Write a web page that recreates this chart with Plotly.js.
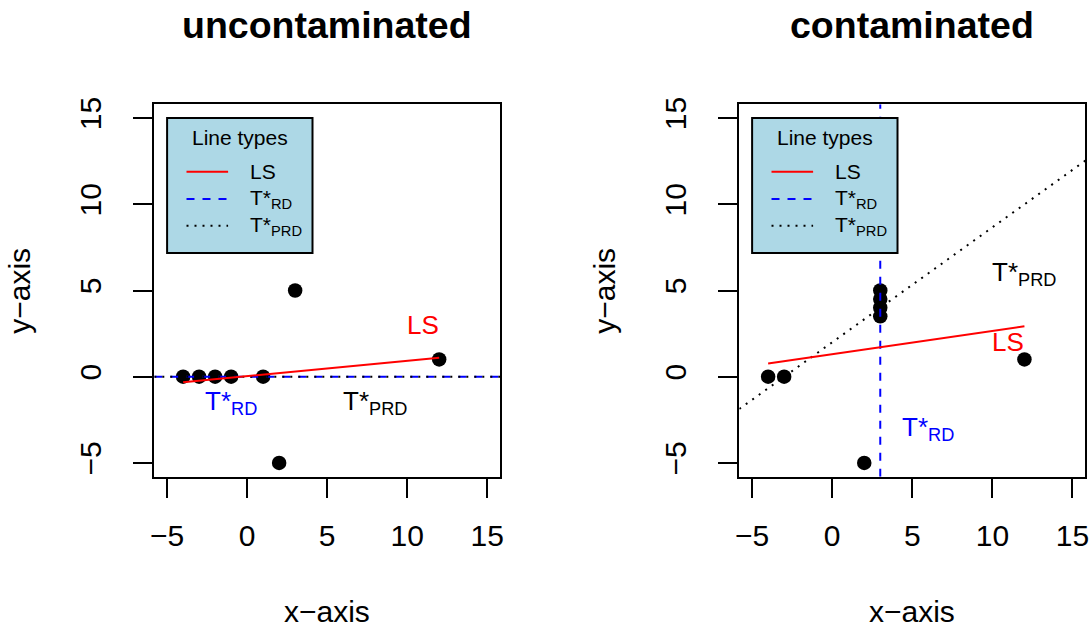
<!DOCTYPE html>
<html>
<head>
<meta charset="utf-8">
<script src="https://cdn.plot.ly/plotly-3.0.1.min.js"></script>
<style>html,body{margin:0;padding:0;background:#fff;}#chart{width:1091px;height:627px;}</style>
</head>
<body>
<div id="chart"></div>
<script>
// ---------- data ----------
const panelTitles = ["uncontaminated", "contaminated"];
const xAxisLabel = "x\u2212axis";
const yAxisLabel = "y\u2212axis";
const tickVals = [-5, 0, 5, 10, 15];
const tickText = ["\u22125", "0", "5", "10", "15"];
const axisRange = [-5.8, 15.8];

// uncontaminated sample
const leftX = [-4, -3, -2, -1, 1, 3, 2, 12];
const leftY = [0, 0, 0, 0, 0, 5, -5, 1];
// contaminated sample
const rightX = [-4, -3, 3, 3, 3, 3, 2, 12];
const rightY = [0, 0, 5, 4.5, 4, 3.5, -5, 1];

// fitted lines
const lsLeftX = [-4, 12];
const lsLeftY = [-0.32, 1.10];
const rdLeftX = [-5.8, 15.8];
const rdLeftY = [0, 0];
const prdLeftX = [-5.8, 15.8];
const prdLeftY = [0, 0];

const lsRightX = [-4, 12];
const lsRightY = [0.76, 2.92];
const rdRightX = [3, 3];
const rdRightY = [-5.8, 15.8];
const prdRightX = [-5.8, 15.8];
const prdRightY = [-1.87, 12.53];

// in-plot labels
const labelText = ["LS", "T*<sub>RD</sub>", "T*<sub>PRD</sub>"];
const labelLeftX = [11, -1, 8];
const labelLeftY = [3, -1.5, -1.5];
const labelRightX = [11, 6, 12];
const labelRightY = [2, -3, 6];

const legendTitle = "Line types";
const legendLabels = ["LS", "T*<sub>RD</sub>", "T*<sub>PRD</sub>"];
const legendAnchor = [-5, 15];

// ---------- styles ----------
const FONT = "Liberation Sans, Arial, Helvetica, sans-serif";
const colLS = "#FF0000", colRD = "#0000FF", colPRD = "#000000";
const labelColors = [colLS, colRD, colPRD];
const dashRD = "8px,8px", dashPRD = "2px,6px";

function pointsTrace(x, y, xa, ya) {
  return {x: x, y: y, xaxis: xa, yaxis: ya, type: "scatter", mode: "markers",
    marker: {color: "#000", size: 14.5, line: {width: 0}}, showlegend: false, hoverinfo: "skip"};
}
function lineTrace(x, y, xa, ya, color, dash) {
  return {x: x, y: y, xaxis: xa, yaxis: ya, type: "scatter", mode: "lines",
    line: {color: color, width: 2, dash: dash}, showlegend: false, hoverinfo: "skip", cliponaxis: true};
}

const data = [
  pointsTrace(leftX, leftY, "x", "y"),
  lineTrace(rdLeftX, rdLeftY, "x", "y", colRD, dashRD),
  lineTrace(prdLeftX, prdLeftY, "x", "y", colPRD, dashPRD),
  lineTrace(lsLeftX, lsLeftY, "x", "y", colLS, "solid"),
  pointsTrace(rightX, rightY, "x2", "y2"),
  lineTrace(rdRightX, rdRightY, "x2", "y2", colRD, dashRD),
  lineTrace(prdRightX, prdRightY, "x2", "y2", colPRD, dashPRD),
  lineTrace(lsRightX, lsRightY, "x2", "y2", colLS, "solid")
];

const W = 1091, H = 627;
const plotTop = 104.3, plotBottom = 476.7;
const leftDom = [154.3, 500], rightDom = [739.3, 1085.3];

function xAxis(dom, anchor) {
  return {domain: [dom[0] / W, dom[1] / W], anchor: anchor, range: axisRange, autorange: false,
    tickmode: "array", tickvals: tickVals, ticktext: tickText, ticks: "outside", ticklen: 19, tickwidth: 2,
    tickcolor: "#000", showline: true, linecolor: "#000", linewidth: 2, mirror: true,
    showgrid: false, zeroline: false, tickfont: {family: FONT, size: 30, color: "#000"},
    ticklabelstandoff: 12, fixedrange: true};
}
function yAxis(anchor) {
  return {domain: [1 - plotBottom / H, 1 - plotTop / H], anchor: anchor, range: axisRange, autorange: false,
    tickmode: "array", tickvals: tickVals, ticktext: tickText, ticks: "outside", ticklen: 19, tickwidth: 2,
    tickcolor: "#000", showline: true, linecolor: "#000", linewidth: 2, mirror: true,
    showgrid: false, zeroline: false, tickangle: -90, tickfont: {family: FONT, size: 30, color: "#000"},
    ticklabelstandoff: 20, fixedrange: true};
}

const annotations = [];
const shapes = [];

[leftDom, rightDom].forEach(function (dom, i) {
  const cx = (dom[0] + dom[1]) / 2 / W;
  annotations.push({xref: "paper", yref: "paper", x: cx, y: 1 - 25 / H, xanchor: "center", yanchor: "middle",
    text: "<b>" + panelTitles[i] + "</b>", showarrow: false, font: {family: FONT, size: 37.5, color: "#000"}});
  annotations.push({xref: "paper", yref: "paper", x: cx, y: 1 - 611.3 / H, xanchor: "center", yanchor: "middle",
    text: xAxisLabel, showarrow: false, font: {family: FONT, size: 30, color: "#000"}});
  annotations.push({xref: "paper", yref: "paper", x: (dom[0] - 135) / W, y: 1 - 290.5 / H, xanchor: "center", yanchor: "middle",
    text: yAxisLabel, textangle: -90, showarrow: false, font: {family: FONT, size: 30, color: "#000"}});
});

// in-plot labels
[[labelLeftX, labelLeftY, "x", "y"], [labelRightX, labelRightY, "x2", "y2"]].forEach(function (s) {
  for (let k = 0; k < labelText.length; k++) {
    annotations.push({xref: s[2], yref: s[3], x: s[0][k], y: s[1][k], xanchor: "center", yanchor: "middle",
      text: labelText[k], showarrow: false, font: {family: FONT, size: 26, color: labelColors[k]}});
  }
});

// legends (box, samples, text) anchored at data point (-5, 15)
const legendRows = [
  {color: colLS, dash: "solid", dy: 53.7},
  {color: colRD, dash: dashRD, dy: 81},
  {color: colPRD, dash: dashPRD, dy: 107.7}
];
[["x", "y"], ["x2", "y2"]].forEach(function (ax) {
  shapes.push({type: "rect", xref: ax[0], yref: ax[1], xsizemode: "pixel", ysizemode: "pixel",
    xanchor: legendAnchor[0], yanchor: legendAnchor[1], x0: 0, x1: 145.4, y0: -135, y1: 0,
    fillcolor: "#ADD8E6", line: {color: "#000", width: 2}, layer: "above"});
  annotations.push({xref: ax[0], yref: ax[1], x: legendAnchor[0], y: legendAnchor[1], xanchor: "center", yanchor: "middle",
    xshift: 72.7, yshift: -19.5, text: legendTitle, showarrow: false, font: {family: FONT, size: 21, color: "#000"}});
  legendRows.forEach(function (r, k) {
    shapes.push({type: "line", xref: ax[0], yref: ax[1], xsizemode: "pixel", ysizemode: "pixel",
      xanchor: legendAnchor[0], yanchor: legendAnchor[1], x0: 19.4, x1: 61, y0: -r.dy, y1: -r.dy,
      line: {color: r.color, width: 2, dash: r.dash}, layer: "above"});
    annotations.push({xref: ax[0], yref: ax[1], x: legendAnchor[0], y: legendAnchor[1], xanchor: "left", yanchor: "middle",
      xshift: 80.7, yshift: -r.dy, text: legendLabels[k], showarrow: false, font: {family: FONT, size: 21, color: "#000"}});
  });
});

const layout = {
  width: W, height: H, margin: {l: 0, r: 0, t: 0, b: 0, pad: 0},
  paper_bgcolor: "#fff", plot_bgcolor: "#fff", showlegend: false,
  font: {family: FONT, color: "#000"},
  xaxis: xAxis(leftDom, "y"), yaxis: yAxis("x"),
  xaxis2: xAxis(rightDom, "y2"), yaxis2: yAxis("x2"),
  annotations: annotations, shapes: shapes
};

Plotly.newPlot("chart", data, layout, {staticPlot: true, displayModeBar: false});
</script>
</body>
</html>
